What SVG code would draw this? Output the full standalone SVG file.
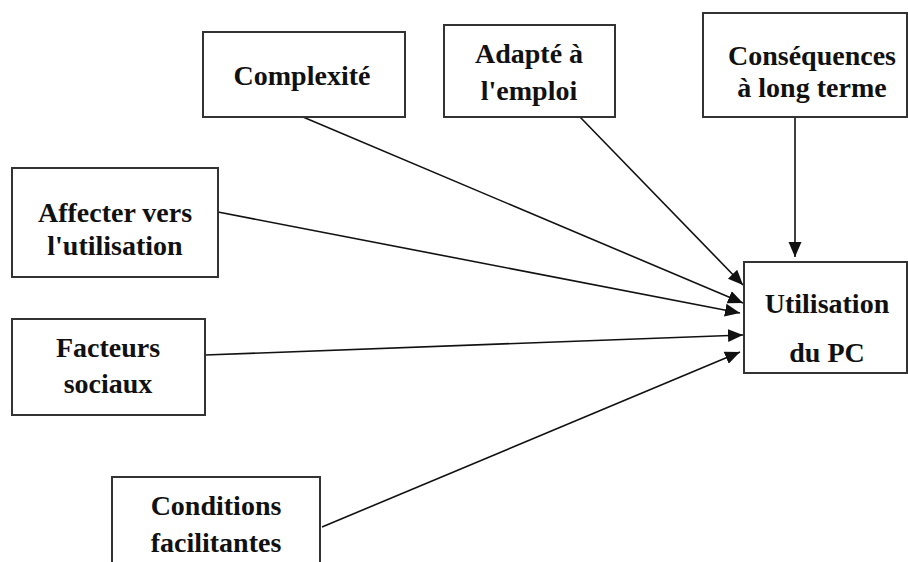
<svg xmlns="http://www.w3.org/2000/svg" width="908" height="562" viewBox="0 0 908 562">
<style>
.box{fill:#fff;stroke:#333;stroke-width:2}
.t{font-family:"Liberation Serif","Times New Roman",serif;font-weight:bold;font-size:28px;fill:#111;text-anchor:middle}
.c{stroke:#111;stroke-width:1.6;fill:none;marker-end:url(#ah)}
</style>
<defs>
<marker id="ah" markerUnits="userSpaceOnUse" markerWidth="16" markerHeight="14" refX="15" refY="6.5" orient="auto">
<path d="M0,0 L15,6.5 L0,13 z" fill="#111"/>
</marker>
</defs>
<rect width="908" height="562" fill="#fff"/>
<g id="connectors">
<line class="c" x1="303" y1="117" x2="743" y2="303"/>
<line class="c" x1="580" y1="117" x2="743" y2="285"/>
<line class="c" x1="795" y1="117" x2="795" y2="257"/>
<line class="c" x1="218" y1="212" x2="740" y2="313"/>
<line class="c" x1="205" y1="355" x2="743" y2="335"/>
<line class="c" x1="322" y1="527" x2="740" y2="352"/>
</g>
<g id="complexite">
<rect class="box" x="203" y="32" width="202" height="85"/>
<text class="t" x="302" y="85">Complexité</text>
</g>
<g id="adapte">
<rect class="box" x="444" y="25" width="171" height="92"/>
<text class="t" x="529" y="63">Adapté à</text>
<text class="t" x="529" y="100">l'emploi</text>
</g>
<g id="consequences">
<rect class="box" x="703" y="13" width="204" height="104"/>
<text class="t" x="812" y="65">Conséquences</text>
<text class="t" x="812" y="97">à long terme</text>
</g>
<g id="affecter">
<rect class="box" x="12" y="168" width="206" height="109"/>
<text class="t" x="115" y="222">Affecter vers</text>
<text class="t" x="115" y="255">l'utilisation</text>
</g>
<g id="facteurs">
<rect class="box" x="12" y="319" width="193" height="96"/>
<text class="t" x="108" y="357">Facteurs</text>
<text class="t" x="108" y="393">sociaux</text>
</g>
<g id="utilisation">
<rect class="box" x="744" y="262" width="163" height="111"/>
<text class="t" x="827" y="313">Utilisation</text>
<text class="t" x="827" y="362">du PC</text>
</g>
<g id="conditions">
<rect class="box" x="112" y="477" width="208" height="100"/>
<text class="t" x="216" y="515">Conditions</text>
<text class="t" x="216" y="552">facilitantes</text>
</g>
</svg>
